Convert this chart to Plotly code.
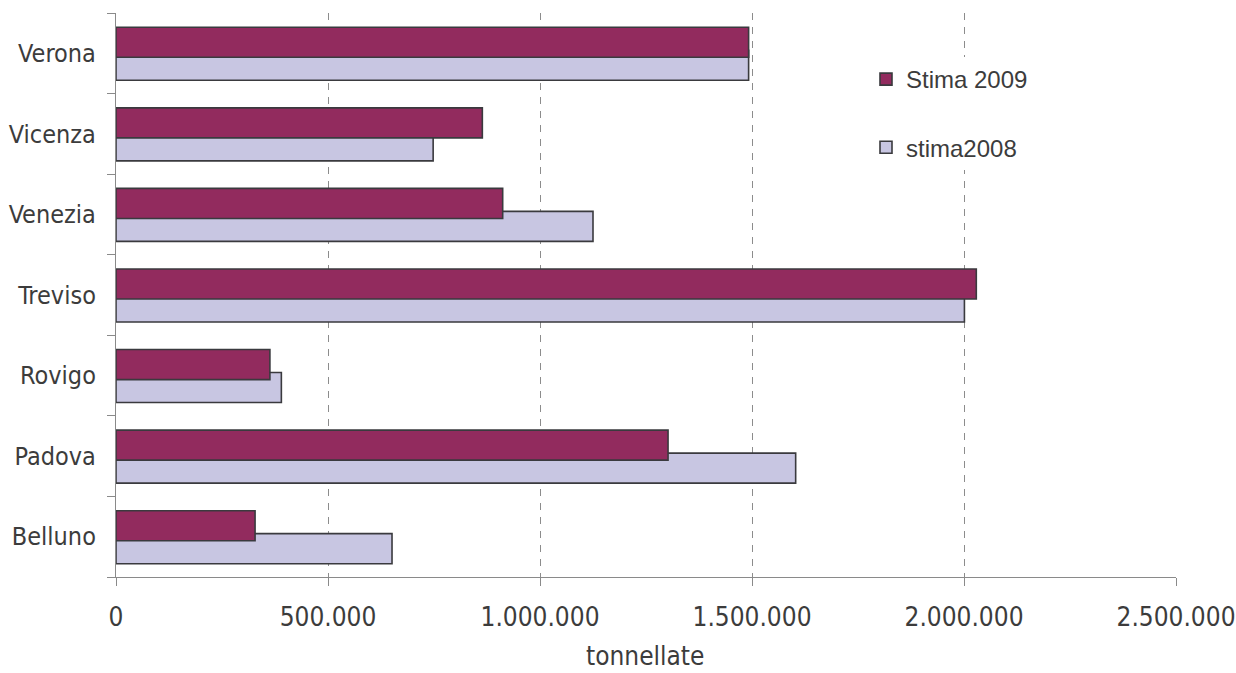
import plotly.graph_objects as go

# Data (bottom to top as drawn on the y axis)
provinces = ["Belluno", "Padova", "Rovigo", "Treviso", "Venezia", "Vicenza", "Verona"]
stima_2009 = [328000, 1302000, 363000, 2029000, 912000, 864000, 1492000]
stima_2008 = [651000, 1603000, 390000, 2001000, 1125000, 748000, 1492000]
x_ticks = [0, 500000, 1000000, 1500000, 2000000, 2500000]
x_title = "tonnellate"

COL_2009 = "#922B5E"
COL_2008 = "#C8C6E2"
EDGE = "#3a3a3e"
TXT = "#3c3c3c"
FONT_AX = "DejaVu Sans Condensed, DejaVu Sans, sans-serif"
FONT_LEG = "Liberation Sans, Arial, sans-serif"

fig = go.Figure()
fig.add_trace(go.Bar(
    y=provinces, x=stima_2008, orientation="h", name="stima2008",
    marker=dict(color=COL_2008, line=dict(color=EDGE, width=1.6)),
    offset=-0.335, width=0.373, legendgroup="b", legendrank=2,
))
fig.add_trace(go.Bar(
    y=provinces, x=stima_2009, orientation="h", name="Stima 2009",
    marker=dict(color=COL_2009, line=dict(color=EDGE, width=1.6)),
    offset=-0.05, width=0.373, legendgroup="a", legendrank=1,
))

fig.add_annotation(text=x_title, xref="paper", yref="paper",
                   x=(645 - 116) / 1060, y=(577 - 672) / 564,
                   xanchor="center", yanchor="bottom", showarrow=False,
                   borderpad=0,
                   font=dict(family=FONT_AX, size=26, color=TXT))

fig.update_layout(
    width=1236, height=673,
    margin=dict(l=116, r=60, t=13, b=96),
    paper_bgcolor="white", plot_bgcolor="white",
    barmode="overlay",
    separators=",.",
    showlegend=True,
    legend=dict(
        x=(866 - 116) / 1060, xanchor="left",
        y=(577 - 57) / 564, yanchor="top",
        bgcolor="white",
        font=dict(family=FONT_LEG, size=24, color=TXT),
        traceorder="grouped",
        tracegroupgap=34,
        itemwidth=30,
    ),
    xaxis=dict(
        range=[0, 2500000],
        tickvals=x_ticks,
        tickformat=",d",
        automargin=False,
        showgrid=True, gridcolor="#8c8c8c", gridwidth=1, griddash="7px,7px",
        zeroline=False,
        showline=True, linecolor="#8a8a8a", linewidth=1.2,
        ticks="outside", ticklen=8, tickcolor="#8a8a8a", tickwidth=1.2,
        tickfont=dict(family=FONT_AX, size=26, color=TXT),
        ticklabelstandoff=9,
    ),
    yaxis=dict(
        type="category",
        categoryorder="array", categoryarray=provinces,
        range=[-0.5, 6.5],
        automargin=False,
        showgrid=False, zeroline=False,
        showline=True, linecolor="#8a8a8a", linewidth=1.2,
        ticks="outside", ticklen=8, tickcolor="#8a8a8a", tickwidth=1.2,
        tickson="boundaries",
        tickfont=dict(family=FONT_AX, size=25, color=TXT),
        ticklabelstandoff=14,
    ),
)

fig.write_html("out.html")
